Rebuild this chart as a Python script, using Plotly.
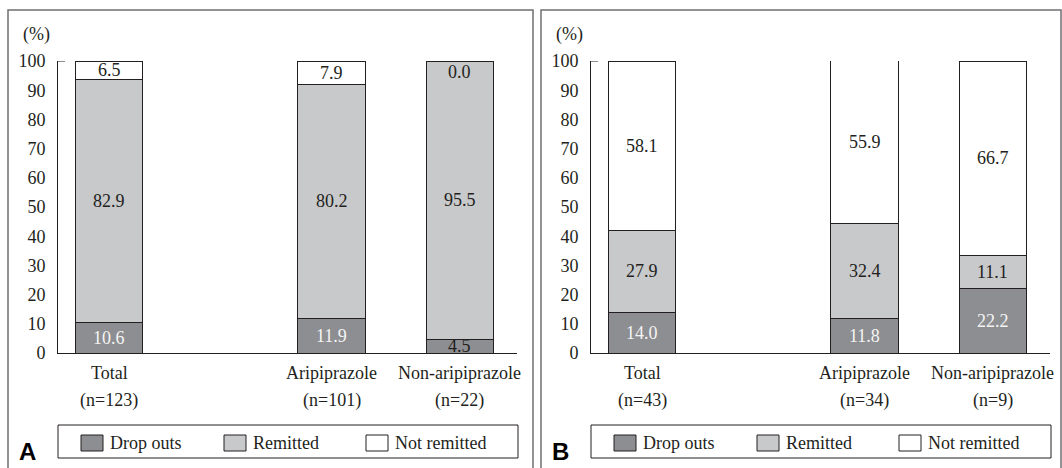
import plotly.graph_objects as go

# ---- data -------------------------------------------------------------
categories_a = ["Total", "Aripiprazole", "Non-aripiprazole"]
counts_a = ["(n=123)", "(n=101)", "(n=22)"]
dropouts_a = [10.6, 11.9, 4.5]
remitted_a = [82.9, 80.2, 95.5]
not_remitted_a = [6.5, 7.9, 0.0]

categories_b = ["Total", "Aripiprazole", "Non-aripiprazole"]
counts_b = ["(n=43)", "(n=34)", "(n=9)"]
dropouts_b = [14.0, 11.8, 22.2]
remitted_b = [27.9, 32.4, 11.1]
not_remitted_b = [58.1, 55.9, 66.7]

series_names = ["Drop outs", "Remitted", "Not remitted"]
y_ticks = [0, 10, 20, 30, 40, 50, 60, 70, 80, 90, 100]

# ---- styling ----------------------------------------------------------
W, H = 1062, 468
SERIF = "Liberation Serif, Times New Roman, serif"
INK = "#231f20"
FILLS = ["#8d8e91", "#c8c9cb", "#ffffff"]
LABEL_COLORS = ["#f4f4f4", INK, INK]
FRAME = "#6f6f71"

# slot positions of the three groups along the x axis (gap after "Total")
slots = [0.0, 1.734, 2.734]
bar_width = 0.525
x_range = [-0.40, 3.18]


def px(x):
    return x / W


def py(y):
    return 1 - y / H


def text(x, y, s, xref="paper", yref="paper", size=18, color=INK,
         family=SERIF, xanchor="center", yanchor="middle"):
    return dict(x=x, y=y, xref=xref, yref=yref, text=s, showarrow=False,
                xanchor=xanchor, yanchor=yanchor,
                font=dict(family=family, size=size, color=color))


fig = go.Figure()

panels = [
    dict(tag="A", cats=categories_a, ns=counts_a,
         vals=[dropouts_a, remitted_a, not_remitted_a],
         xa="x", ya="y", left=58, right=517, frame=(8, 533)),
    dict(tag="B", cats=categories_b, ns=counts_b,
         vals=[dropouts_b, remitted_b, not_remitted_b],
         xa="x2", ya="y2", left=591, right=1050, frame=(541, 1061)),
]

y_bottom_px, y_top_px = 353, 61
shapes = []
annotations = []

for i, p in enumerate(panels):
    xa, ya = p["xa"], p["ya"]
    # stacked bars
    for s, name in enumerate(series_names):
        fig.add_trace(go.Bar(
            x=slots, y=p["vals"][s], width=bar_width, name=name,
            marker=dict(color=FILLS[s], line=dict(color=INK, width=1)),
            xaxis=xa, yaxis=ya, showlegend=False, hoverinfo="skip",
        ))
    # value labels centred in each segment (dark ink when the segment is
    # too thin to hold light text)
    for k in range(len(slots)):
        base = 0.0
        for s in range(len(series_names)):
            v = p["vals"][s][k]
            yc = base + v / 2 if v > 0 else base - 3.6
            col = LABEL_COLORS[s] if v >= 6 else INK
            annotations.append(text(slots[k], yc, f"{v:.1f}", xref=xa,
                                    yref=ya, color=col))
            base += v
    # category labels below the axis
    for k, (c, n) in enumerate(zip(p["cats"], p["ns"])):
        annotations.append(text(slots[k], py(373), c, xref=xa))
        annotations.append(text(slots[k], py(400), n, xref=xa))
    # unit label
    annotations.append(text(px(p["left"] - 22), py(35), "(%)"))
    # panel letter
    annotations.append(text(px(p["frame"][0] + 9), py(451.5),
                            "<b>%s</b>" % p["tag"], xanchor="left",
                            family="Liberation Sans, Arial, sans-serif",
                            size=24, color="#000000"))
    # small cap at the top of the value axis
    shapes.append(dict(type="line", xref=xa + " domain", yref=ya,
                       x0=0, x1=7 / (p["right"] - p["left"]), y0=100, y1=100,
                       line=dict(color=INK, width=1)))
    # panel frame (open at the bottom)
    fl, fr = p["frame"]
    shapes.append(dict(type="path", xref="paper", yref="paper",
                       path=f"M {px(fl)} 0 L {px(fl)} {py(10)} L {px(fr)} {py(10)} L {px(fr)} 0",
                       line=dict(color=FRAME, width=1.5)))
    # legend box
    lx = p["left"]
    shapes.append(dict(type="rect", xref="paper", yref="paper",
                       x0=px(lx), x1=px(p["right"] + 1), y0=py(458), y1=py(425),
                       line=dict(color=INK, width=1), fillcolor="white"))
    sw_offsets = [23, 166, 308]
    for s, name in enumerate(series_names):
        sx = lx + sw_offsets[s]
        shapes.append(dict(type="rect", xref="paper", yref="paper",
                           x0=px(sx), x1=px(sx + 22), y0=py(451), y1=py(435),
                           line=dict(color=INK, width=1), fillcolor=FILLS[s]))
        annotations.append(text(px(sx + 27), py(443), name, xanchor="left"))

axis_common = dict(showgrid=False, zeroline=False, automargin=False,
                   fixedrange=True)
for i, p in enumerate(panels):
    sfx = "" if i == 0 else str(i + 1)
    fig.layout["xaxis" + sfx] = dict(
        domain=[px(p["left"]), px(p["right"])], range=x_range,
        anchor="y" + sfx, showline=True, linecolor=INK, linewidth=1,
        ticks="", showticklabels=False, **axis_common)
    fig.layout["yaxis" + sfx] = dict(
        domain=[py(y_bottom_px), py(y_top_px)], range=[0, 100],
        anchor="x" + sfx, showline=True, linecolor=INK, linewidth=1,
        tickvals=y_ticks, ticks="", ticklabelstandoff=8,
        tickfont=dict(family=SERIF, size=18, color=INK), **axis_common)

fig.update_layout(
    barmode="stack", width=W, height=H,
    margin=dict(l=0, r=0, t=0, b=0, autoexpand=False),
    paper_bgcolor="white", plot_bgcolor="white",
    shapes=shapes, annotations=annotations, showlegend=False,
)

fig.write_html("out.html")
